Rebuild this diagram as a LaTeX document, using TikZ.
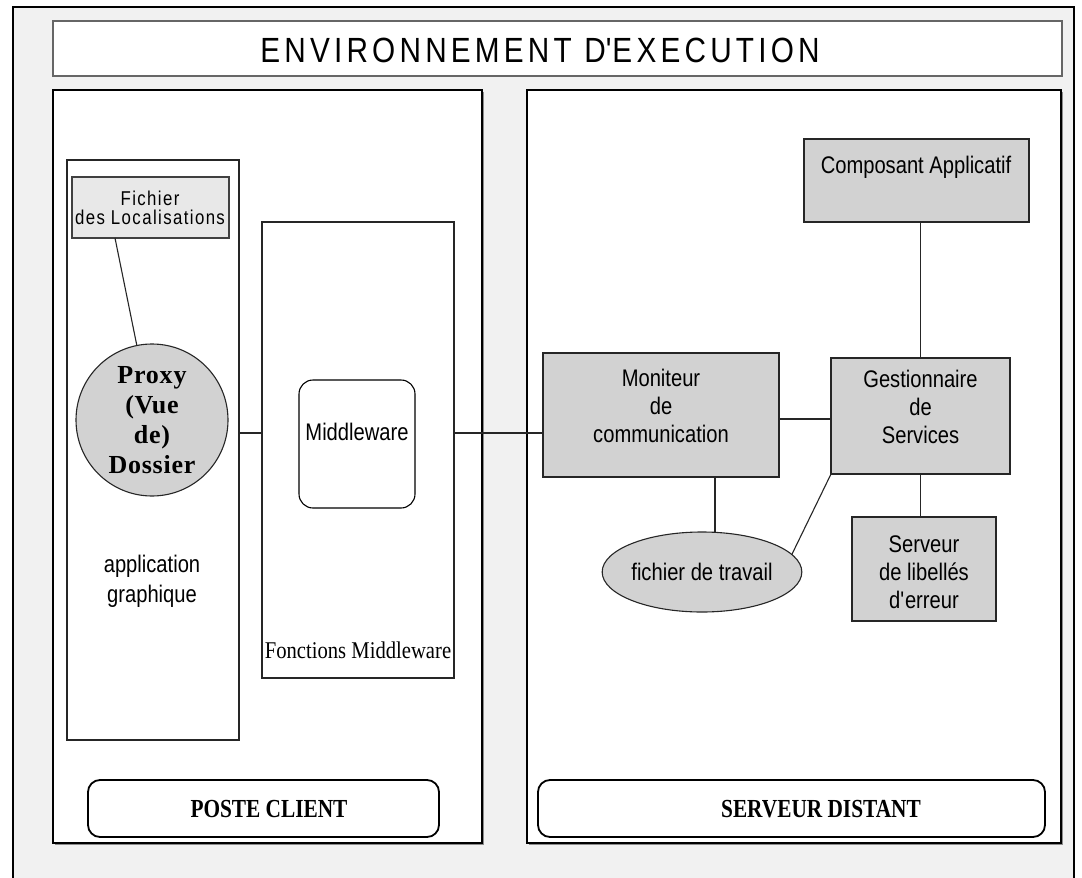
\documentclass[tikz,border=0pt]{standalone}
\usepackage{fontspec}
\setmainfont{Liberation Sans}
\newfontfamily\narrowsans[FakeStretch=0.84]{Liberation Sans}
\newfontfamily\titlesans[FakeStretch=0.85,LetterSpace=12]{Liberation Sans}
\newfontfamily\spacedsans[FakeStretch=0.84,LetterSpace=7]{Liberation Sans}
\newfontfamily\narrowserif[FakeStretch=0.86]{Liberation Serif}
\newfontfamily\labelserif[FakeStretch=0.82]{Liberation Serif}
\newfontfamily\proxyserif[LetterSpace=3]{Liberation Serif}
\usetikzlibrary{shapes.geometric,fit,calc,shadows}

\definecolor{bggray}{HTML}{F1F1F1}
\definecolor{boxgray}{HTML}{D2D2D2}
\definecolor{lightbox}{HTML}{E8E8E8}

\begin{document}
\begin{tikzpicture}[x=1pt,y=-1pt,
  every node/.style={inner sep=0pt, outer sep=0pt},
  frame/.style={draw=black, line width=2.4pt, fill=bggray},
  panel/.style={draw=black, line width=1.8pt, fill=white,
    drop shadow={shadow xshift=1.6pt, shadow yshift=-1.6pt, fill=black!45, opacity=1}},
  titlebox/.style={draw=black!60, line width=1.6pt, fill=white,
    drop shadow={shadow xshift=1.2pt, shadow yshift=-1.2pt, fill=black!35, opacity=1}},
  graybox/.style={draw=black!85, line width=1.1pt, fill=boxgray},
  filebox/.style={draw=black!75, line width=1.1pt, fill=lightbox},
  plainbox/.style={draw=black!85, line width=1.1pt, fill=white},
  roundbox/.style={draw=black, line width=1.1pt, fill=white, rounded corners=14pt},
  labelbox/.style={draw=black, line width=1.8pt, fill=white, rounded corners=12pt},
  link/.style={draw=black!85, line width=1.1pt},
  boxtext/.style={font=\narrowsans\fontsize{24}{28}\selectfont, align=center},
  labeltext/.style={font=\labelserif\bfseries\fontsize{26}{30}\selectfont},
]
\useasboundingbox (0,0) rectangle (1082,878);
\clip (0,0) rectangle (1082,878);

% outer frame of the execution environment
\fill[white] (0,0) rectangle (1082,878);
\draw[frame] (13,7) rectangle (1074,900);

% title banner
\node[titlebox, fit={(53,21) (1062,76)}] (titlebar) {};
\node[font=\titlesans\fontsize{35}{40}\selectfont] (titletext) at (540,50) {ENVIRONNEMENT D\textquotesingle EXECUTION};

% client and server panels
\node[panel, fit={(53,90) (482,843)}] (client) {};
\node[panel, fit={(527,90) (1061,843)}] (server) {};

% client side
\node[plainbox, fit={(67,160) (239,740)}] (app) {};
\node[boxtext, font=\narrowsans\fontsize{24}{30}\selectfont] (apptext) at (152,581) {application\\graphique};
\node[filebox, fit={(72,177) (229,238)}] (fich) {};
\node[align=center, font=\spacedsans\fontsize{20}{19}\selectfont] (fichtext) at (150,208) {Fichier\\des Localisations};
\node[circle, draw=black!85, line width=1.1pt, fill=boxgray, minimum size=152pt,
  align=center, font=\proxyserif\bfseries\fontsize{26}{30}\selectfont] (proxy) at (152,420) {Proxy\\(Vue\\de)\\Dossier};

\node[plainbox, fit={(262,222) (454,678)}] (fonct) {};
\node[font=\narrowserif\fontsize{24}{28}\selectfont] (foncttext) at (358,650) {Fonctions Middleware};
\node[roundbox, fit={(299,380) (415,508)}] (mw) {};
\node[boxtext] (mwtext) at (357,432) {Middleware};

% server side
\node[graybox, fit={(543,353) (779,477)}, boxtext] (moni) {Moniteur\\de\\communication};
\node[graybox, fit={(831,358) (1010,474)}, boxtext] (gest) {Gestionnaire\\de\\Services};
\node[graybox, fit={(804,139) (1029,222)}] (comp) {};
\node[boxtext] (comptext) at (916,167) {Composant Applicatif};
\node[ellipse, draw=black!85, line width=1.1pt, fill=boxgray, minimum width=184pt,
  minimum height=80pt, boxtext] (trav) at (702,572) {fichier de travail};
\node[graybox, fit={(852,517) (996,621)}] (serv) {};
\node[boxtext] (servtext) at (924,572) {Serveur\\de libellés\\d\textquotesingle erreur};

% panel captions
\node[labelbox, fit={(88,780) (439,837)}] (clientlabel) {};
\node[labeltext] (clienttext) at (269,809) {POSTE CLIENT};
\node[labelbox, fit={(538,780) (1045,837)}] (serverlabel) {};
\node[labeltext] (servertext) at (821,809) {SERVEUR DISTANT};

% connectors
\coordinate (busY) at (0,433);
\coordinate (mgY) at (0,419);
\coordinate (mtX) at (715,0);
\draw[link] ($(fich.south west)+(43,0)$) -- (proxy);
\draw[link] (app.east |- busY) -- (fonct.west |- busY);
\draw[link] (fonct.east |- busY) -- (moni.west |- busY);
\draw[link] (moni.east |- mgY) -- (gest.west |- mgY);
\draw[link] (gest.north) -- (gest.north |- comp.south);
\draw[link] (gest.south) -- (gest.south |- serv.north);
\draw[link] (moni.south -| mtX) -- (trav.north -| mtX);
\draw[link] (gest.south west) -- (trav.11);
\end{tikzpicture}
\end{document}
